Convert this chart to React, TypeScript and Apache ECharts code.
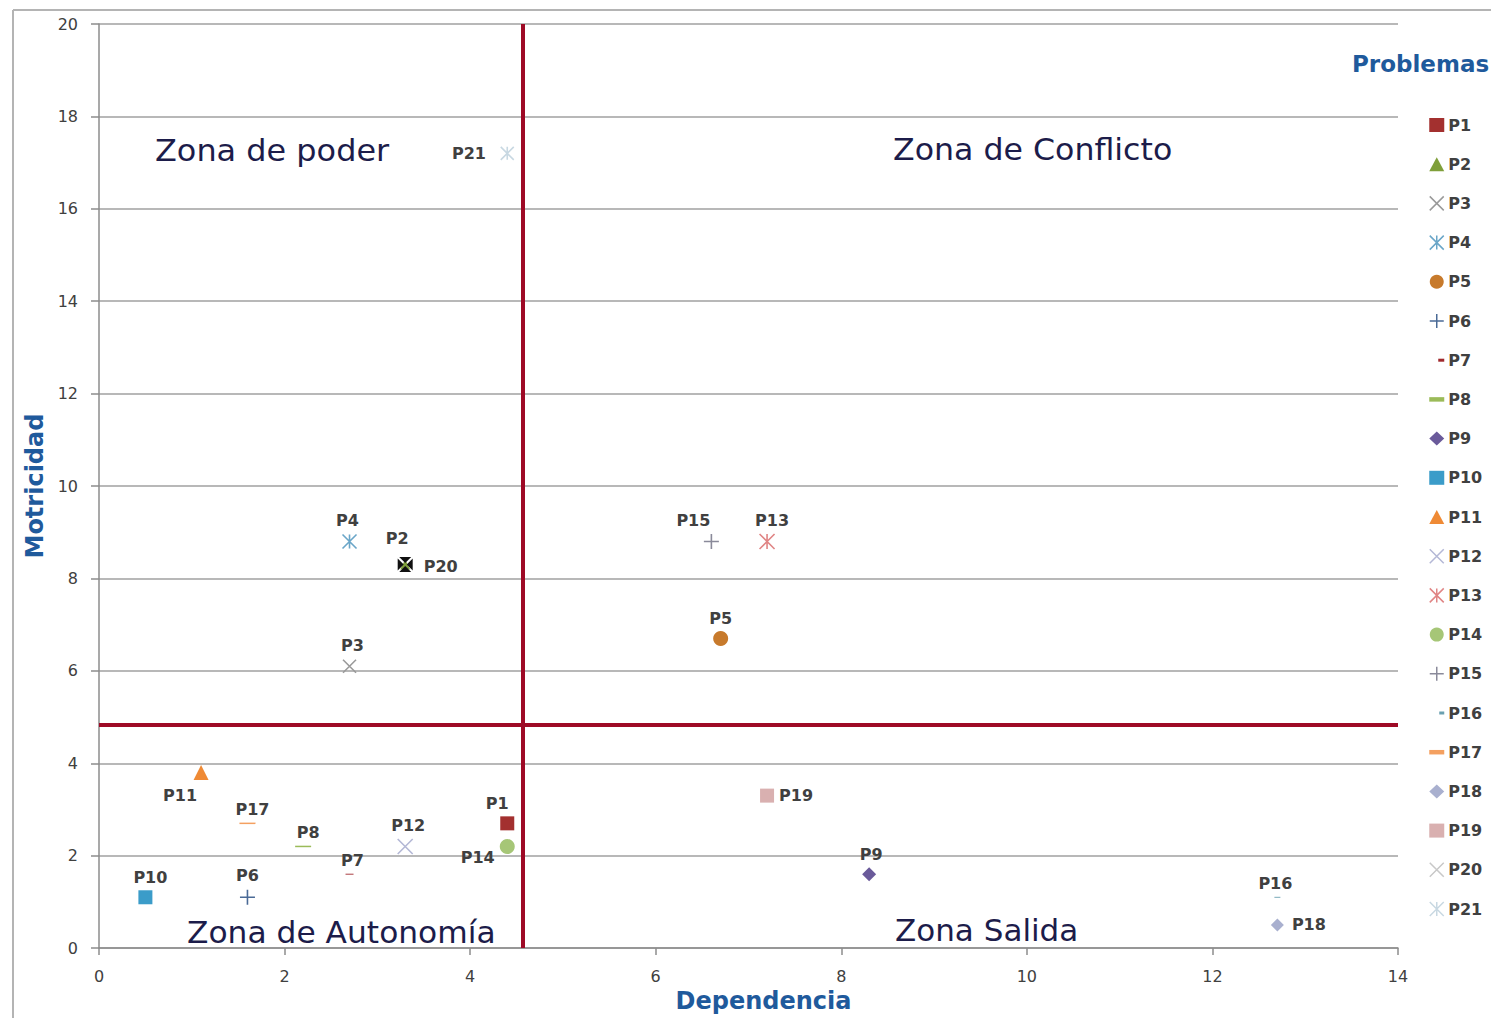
import React, { useEffect, useRef } from "react";
import * as echarts from "echarts";

// ---- Data ----
const problemas = ["P1","P2","P3","P4","P5","P6","P7","P8","P9","P10","P11","P12","P13","P14","P15","P16","P17","P18","P19","P20","P21"];
const dependencia = [4.4, 3.3, 2.7, 2.7, 6.7, 1.6, 2.7, 2.2, 8.3, 0.5, 1.1, 3.3, 7.2, 4.4, 6.6, 12.7, 1.6, 12.7, 7.2, 3.3, 4.4];
const motricidad = [2.7, 8.3, 6.1, 8.8, 6.7, 1.1, 1.6, 2.2, 1.6, 1.1, 3.8, 2.2, 8.8, 2.2, 8.8, 1.1, 2.7, 0.5, 3.3, 8.3, 17.2];
const promedioDependencia = 4.57;
const promedioMotricidad = 4.83;
const xTicks = [0, 2, 4, 6, 8, 10, 12, 14];
const yTicks = [0, 2, 4, 6, 8, 10, 12, 14, 16, 18, 20];
const zonas = ["Zona de poder", "Zona de Conflicto", "Zona de Autonomía", "Zona Salida"];

// ---- Styles ----
const CROSS = "path://M0,0L10,10M10,0L0,10";
const PLUS = "path://M5,0L5,10M0,5L10,5";
const STAR = "path://M0,0L10,10M10,0L0,10M5,0L5,10";
const DASH = "path://M0,0L10,0L10,3L0,3Z";
const BOXX = "path://M1,0L9,0L5,4ZM10,1L10,9L6,5ZM9,10L1,10L5,6ZM0,9L0,1L4,5Z";
const DASH_SMALL_LEGEND = "path://M-9,1.5L-9,1.5M0,0L6,0L6,3L0,3Z";
const DASH_TINY_LEGEND = "path://M-10,1.5L-10,1.5M0,0L5,0L5,3L0,3Z";

type M = { symbol: string; size: any; color: string; stroke?: boolean; legendIcon?: string; legendColor?: string };
const markers: M[] = [
  { symbol: "rect", size: 14, color: "#a3302f" },
  { symbol: "triangle", size: 10, color: "#7f9f3a" },
  { symbol: CROSS, size: 13, color: "#9a9a9a", stroke: true },
  { symbol: STAR, size: 14, color: "#6aa6c8", stroke: true },
  { symbol: "circle", size: 15, color: "#c77a2c" },
  { symbol: PLUS, size: 15, color: "#4a6a96", stroke: true },
  { symbol: DASH, size: [8, 3], color: "#a0282c", legendIcon: DASH_SMALL_LEGEND },
  { symbol: DASH, size: [16, 5], color: "#9bbb59" },
  { symbol: "diamond", size: 14, color: "#6a5a9a" },
  { symbol: "rect", size: 14, color: "#3b9cc9" },
  { symbol: "triangle", size: 15, color: "#ef8a35" },
  { symbol: CROSS, size: 15, color: "#b4b8d6", stroke: true },
  { symbol: STAR, size: 15, color: "#e08585", stroke: true },
  { symbol: "circle", size: 15, color: "#a6c677" },
  { symbol: PLUS, size: 15, color: "#8a8a9a", stroke: true },
  { symbol: DASH, size: [6, 3], color: "#6aa0b0", legendIcon: DASH_TINY_LEGEND },
  { symbol: DASH, size: [16, 5], color: "#f4a060" },
  { symbol: "diamond", size: 13, color: "#a9b0cf" },
  { symbol: "rect", size: 14, color: "#d9b0b0" },
  { symbol: BOXX, size: 15, color: "#111111", legendIcon: CROSS, legendColor: "#c8c8c8" },
  { symbol: STAR, size: 13, color: "#c8d8e2", stroke: true },
];

const labelPos: [string, number[]][] = [
  ["top", [-10, 0]], ["top", [-8, -8]], ["top", [3, 0]], ["top", [-2, 0]], ["top", [0, 0]],
  ["top", [0, 0]], ["top", [3, 0]], ["top", [5, 0]], ["top", [2, 0]], ["top", [5, 0]],
  ["bottom", [-21, 2]], ["top", [3, 0]], ["top", [5, 0]], ["left", [0, 11]], ["top", [-18, 0]],
  ["top", [-2, 0]], ["top", [5, 0]], ["right", [3, 0]], ["right", [0, 0]], ["right", [6, 2]],
  ["left", [-9, 0]],
];

const FONT = "DejaVu Sans";
const TEXT = "#404040";
const BLUE = "#1f5a9c";
const ZONE = "#1c1c4a";

export default function App() {
  const ref = useRef<HTMLDivElement>(null);
  useEffect(() => {
    if (!ref.current) return;
    const chart = echarts.init(ref.current, undefined, { renderer: "svg" });

    const series: any[] = problemas.map((name, i) => {
      const m = markers[i];
      return {
        type: "scatter",
        name,
        data: [[dependencia[i], motricidad[i]]],
        symbol: m.symbol,
        symbolSize: m.size,
        symbolKeepAspect: true,
        itemStyle: m.stroke
          ? { color: m.color, borderColor: m.color, borderWidth: 1.6, opacity: 1 }
          : { color: m.color, opacity: 1 },
        label: {
          show: true,
          formatter: name,
          position: labelPos[i][0],
          offset: labelPos[i][1],
          fontFamily: FONT,
          fontWeight: "bold",
          fontSize: 16,
          color: TEXT,
        },
        emphasis: { disabled: true },
        z: 3,
      };
    });

    series.push({
      type: "scatter",
      name: "promedios",
      data: [],
      silent: true,
      markLine: {
        silent: true,
        symbol: ["none", "none"],
        label: { show: false },
        lineStyle: { color: "#9e0a26", width: 4, type: "solid" },
        data: [{ xAxis: promedioDependencia }, { yAxis: promedioMotricidad }],
      },
      z: 2,
    });

    const legendData = problemas.map((name, i) => {
      const m = markers[i];
      const icon = m.legendIcon || m.symbol;
      const c = m.legendColor || m.color;
      const stroke = m.stroke || (!!m.legendIcon && icon === CROSS);
      return {
        name,
        icon,
        itemStyle: stroke
          ? { color: c, borderColor: c, borderWidth: 1.5 }
          : { color: c, borderWidth: 0 },
      };
    });

    const zonePos = [
      { x: 155, y: 150, sx: 1.03 },
      { x: 893, y: 149, sx: 1.02 },
      { x: 187, y: 932, sx: 1.01 },
      { x: 895, y: 930, sx: 1.0 },
    ];

    chart.setOption({
      animation: false,
      backgroundColor: "#ffffff",
      grid: { left: 99, right: 93, top: 24, bottom: 63, containLabel: false },
      xAxis: {
        type: "value",
        min: xTicks[0],
        max: xTicks[xTicks.length - 1],
        interval: 2,
        name: "Dependencia",
        nameLocation: "middle",
        nameGap: 33,
        nameTextStyle: { fontFamily: FONT, fontWeight: "bold", fontSize: 24, color: BLUE, padding: [0, 0, 0, 30] },
        axisLine: { show: true, lineStyle: { color: "#8c8c8c", width: 1.5 } },
        axisTick: { show: true, length: 7, lineStyle: { color: "#8c8c8c", width: 1.5 } },
        splitLine: { show: false },
        axisLabel: { fontFamily: FONT, fontSize: 16, color: TEXT, margin: 20 },
      },
      yAxis: {
        type: "value",
        min: yTicks[0],
        max: yTicks[yTicks.length - 1],
        interval: 2,
        name: "Motricidad",
        nameLocation: "middle",
        nameRotate: 90,
        nameGap: 52,
        nameTextStyle: { fontFamily: FONT, fontWeight: "bold", fontSize: 24, color: BLUE },
        axisLine: { show: true, lineStyle: { color: "#8c8c8c", width: 1.5 } },
        axisTick: { show: true, length: 8, lineStyle: { color: "#8c8c8c", width: 1.5 } },
        splitLine: { show: true, lineStyle: { color: "#a0a0a0", width: 1.6 } },
        axisLabel: { fontFamily: FONT, fontSize: 16, color: TEXT, margin: 21 },
      },
      legend: {
        orient: "vertical",
        left: 1424,
        top: 111,
        itemWidth: 15,
        itemHeight: 14,
        itemGap: 21.2,
        data: legendData,
        selectedMode: false,
        textStyle: { fontFamily: FONT, fontWeight: "bold", fontSize: 16, color: TEXT, lineHeight: 18, padding: [0, 0, 0, -1] },
      },
      graphic: [
        { type: "line", shape: { x1: 13, y1: 10, x2: 1491, y2: 10 }, style: { stroke: "#b4b4b4", lineWidth: 2 }, silent: true },
        { type: "line", shape: { x1: 13, y1: 10, x2: 13, y2: 1018 }, style: { stroke: "#b4b4b4", lineWidth: 2 }, silent: true },
        {
          type: "text",
          x: 1352,
          y: 64,
          style: { text: "Problemas", font: `bold 23px "${FONT}"`, fill: BLUE, verticalAlign: "middle" },
          silent: true,
        },
        ...zonas.map((t, i) => ({
          type: "text",
          x: zonePos[i].x,
          y: zonePos[i].y,
          scaleX: zonePos[i].sx,
          style: { text: t, font: `31px "${FONT}"`, fill: ZONE, verticalAlign: "middle" },
          silent: true,
          z: 5,
        })),
      ],
      series,
    });

    return () => chart.dispose();
  }, []);

  return <div ref={ref} style={{ position: "absolute", left: 0, top: 0, width: 1491, height: 1018 }} />;
}
